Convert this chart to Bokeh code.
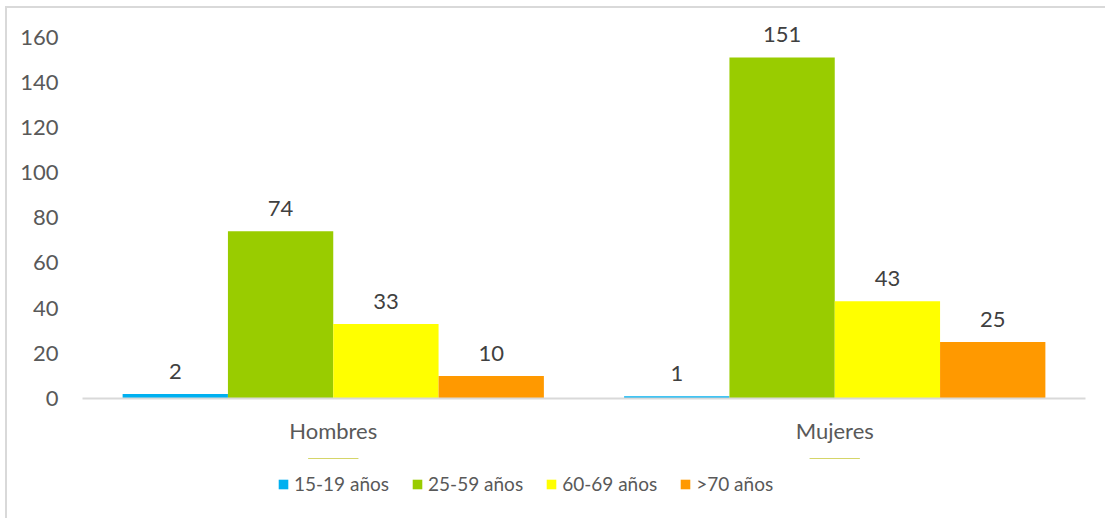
from bokeh.plotting import figure
from bokeh.layouts import column
from bokeh.models import ColumnDataSource, FactorRange, Range1d, FixedTicker, Legend, LegendItem
from bokeh.transform import dodge
from bokeh.core.properties import value
from bokeh.embed import file_html
from bokeh.resources import INLINE

categories = ["Hombres", "Mujeres"]
series = ["15-19 años", "25-59 años", "60-69 años", ">70 años"]
v_15_19 = [2, 1]
v_25_59 = [74, 151]
v_60_69 = [33, 43]
v_70 = [10, 25]
colors = ["#00B0F0", "#99CC00", "#FFFF00", "#FF9900"]
y_ticks = [0, 20, 40, 60, 80, 100, 120, 140, 160]

FONT = "Lato"
FS = "22px"
values = [v_15_19, v_25_59, v_60_69, v_70]

p = figure(x_range=FactorRange(*categories), y_range=Range1d(0, 170),
           frame_width=1003, frame_height=384, output_backend="svg", toolbar_location=None,
           min_border_left=75, min_border_right=20, min_border_top=6, min_border_bottom=60)
p.outline_line_color = None
p.xgrid.grid_line_color = None
p.ygrid.grid_line_color = None
p.background_fill_color = "white"
p.border_fill_color = "white"

bw = 0.21
offsets = [-1.5 * bw, -0.5 * bw, 0.5 * bw, 1.5 * bw]
sources = []
for name, vals, col, off in zip(series, values, colors, offsets):
    src = ColumnDataSource(dict(cat=categories, v=vals, lbl=[str(x) for x in vals]))
    sources.append(src)
    p.vbar(x=dodge("cat", off, range=p.x_range), top="v", width=bw, source=src,
           fill_color=col, line_color=None)
    p.text(x=dodge("cat", off, range=p.x_range), y="v", text="lbl", source=src,
           text_align="center", text_baseline="bottom", y_offset=-15,
           text_font=value(FONT), text_font_size=FS, text_color="#404040")

p.yaxis.ticker = FixedTicker(ticks=y_ticks)
p.yaxis.axis_line_color = None
p.yaxis.major_tick_line_color = None
p.yaxis.minor_tick_line_color = None
p.yaxis.major_label_standoff = 18
p.yaxis.major_label_text_font = FONT
p.yaxis.major_label_text_font_size = FS
p.yaxis.major_label_text_color = "#595959"

p.xaxis.axis_line_color = "#d9d9d9"
p.xaxis.axis_line_width = 2
p.xaxis.major_tick_line_color = None
p.xaxis.minor_tick_line_color = None
p.xaxis.major_label_standoff = 12
p.xaxis.major_label_text_font = FONT
p.xaxis.major_label_text_font_size = FS
p.xaxis.major_label_text_color = "#595959"

# legend strip below the chart (bars kept out of its visible range)
p2 = figure(width=1098, height=60, x_range=FactorRange(*categories), y_range=Range1d(-2, -1),
            output_backend="svg", toolbar_location=None, x_axis_type=None, y_axis_type=None,
            min_border=0)
p2.outline_line_color = None
p2.xgrid.grid_line_color = None
p2.ygrid.grid_line_color = None
p2.background_fill_color = "white"
p2.border_fill_color = "white"
items = []
for name, col, src in zip(series, colors, sources):
    r = p2.vbar(x="cat", top="v", width=0.1, source=src, fill_color=col, line_color=None)
    items.append(LegendItem(label=name, renderers=[r], index=0))
legend = Legend(items=items, orientation="horizontal", location=(195, 23),
                label_text_font=FONT, label_text_font_size="19px", label_text_color="#595959",
                glyph_width=12, glyph_height=12, spacing=22, label_standoff=5,
                border_line_color=None, background_fill_alpha=0, margin=0, padding=0)
p2.add_layout(legend, "center")

layout = column(p, p2, spacing=0)
layout.styles = {"outline": "2px solid #d9d9d9", "margin-left": "7px", "margin-top": "8px"}

open("out.html", "w").write(file_html(layout, INLINE))
